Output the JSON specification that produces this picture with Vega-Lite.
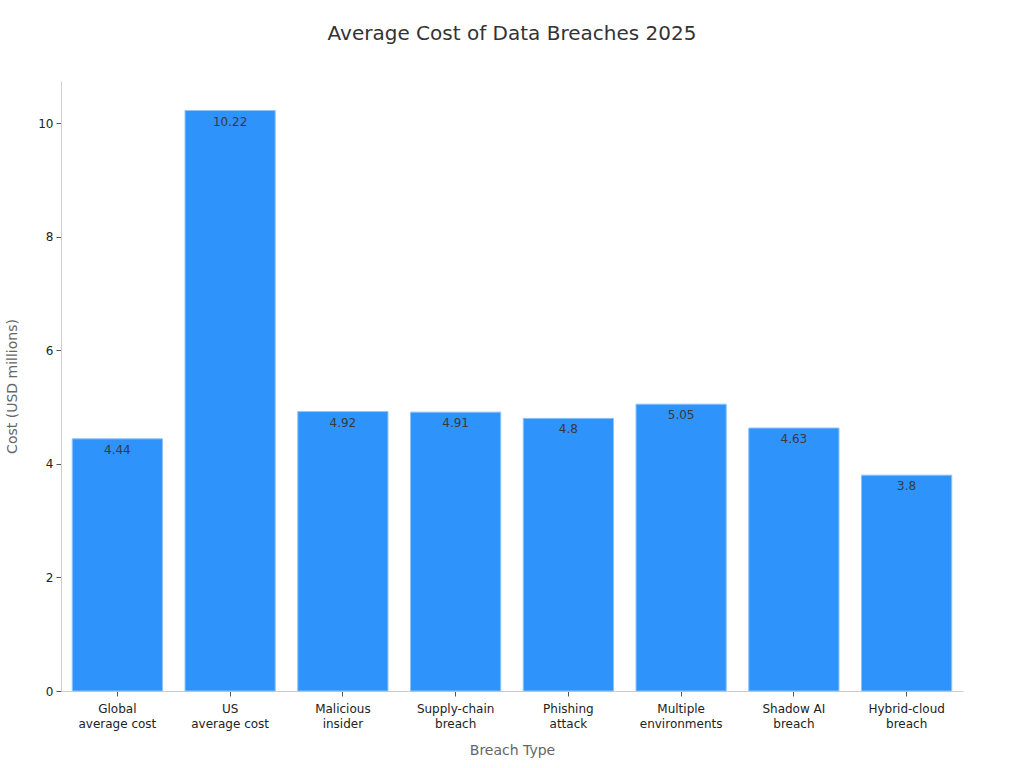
{
  "$schema": "https://vega.github.io/schema/vega-lite/v6.json",
  "width": 902,
  "height": 610,
  "autosize": {"type": "none"},
  "padding": {"left": 61, "top": 81, "right": 61, "bottom": 77},
  "background": "white",
  "title": {
    "text": "Average Cost of Data Breaches 2025",
    "font": "DejaVu Sans",
    "fontSize": 20,
    "fontWeight": "normal",
    "color": "#333333",
    "anchor": "middle",
    "offset": 37
  },
  "config": {
    "view": {"stroke": null},
    "font": "DejaVu Sans"
  },
  "data": {
    "values": [
      {"type": "Global\naverage cost", "cost": 4.44},
      {"type": "US\naverage cost", "cost": 10.22},
      {"type": "Malicious\ninsider", "cost": 4.92},
      {"type": "Supply-chain\nbreach", "cost": 4.91},
      {"type": "Phishing\nattack", "cost": 4.8},
      {"type": "Multiple\nenvironments", "cost": 5.05},
      {"type": "Shadow AI\nbreach", "cost": 4.63},
      {"type": "Hybrid-cloud\nbreach", "cost": 3.8}
    ]
  },
  "encoding": {
    "x": {
      "field": "type",
      "type": "nominal",
      "sort": null,
      "scale": {"paddingInner": 0.2, "paddingOuter": 0.1},
      "axis": {
        "title": "Breach Type",
        "labelExpr": "split(datum.label, '\\n')",
        "labelAngle": 0,
        "labelFontSize": 12,
        "labelColor": "#222222",
        "labelLineHeight": 15,
        "labelPadding": 7,
        "tickColor": "#555555",
        "tickSize": 5,
        "domainColor": "#cccccc",
        "titleFontSize": 14,
        "titleFontWeight": "normal",
        "titleColor": "#666666",
        "titlePadding": 14
      }
    },
    "y": {
      "field": "cost",
      "type": "quantitative",
      "scale": {"domain": [0, 10.74], "nice": false},
      "axis": {
        "title": "Cost (USD millions)",
        "values": [0, 2, 4, 6, 8, 10],
        "grid": false,
        "labelFontSize": 12,
        "labelColor": "#222222",
        "labelPadding": 3,
        "tickColor": "#555555",
        "tickSize": 5,
        "domainColor": "#cccccc",
        "titleFontSize": 14,
        "titleFontWeight": "normal",
        "titleColor": "#666666",
        "titlePadding": 18
      }
    }
  },
  "layer": [
    {
      "mark": {"type": "bar", "color": "#2e93fa", "stroke": "#8cc3fb", "strokeWidth": 1}
    },
    {
      "mark": {"type": "text", "baseline": "top", "dy": 6, "fontSize": 12, "color": "#3a3a3a", "font": "DejaVu Sans"},
      "encoding": {"text": {"field": "cost", "type": "quantitative"}}
    }
  ]
}
